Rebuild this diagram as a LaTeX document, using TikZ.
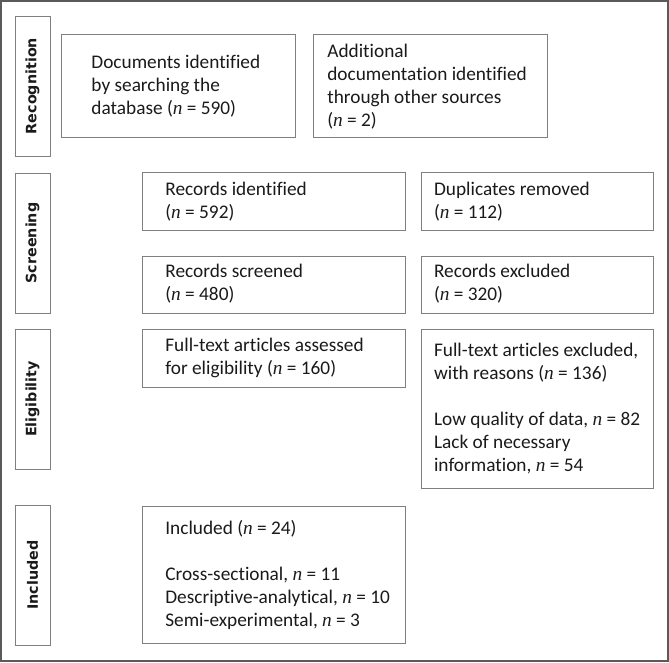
\documentclass[tikz,border=0pt]{standalone}
\usepackage{fontspec}
\setmainfont{Carlito}[Ligatures=NoCommon]
\newfontfamily\sidefont{DejaVu Sans}
\newfontfamily\nserif{Liberation Serif}
\newcommand{\nv}{{\nserif\itshape n}}
\definecolor{framegray}{HTML}{5A5A5A}
\definecolor{boxgray}{HTML}{7F7F7F}
\definecolor{inkc}{HTML}{1A1A1A}
\tikzset{
  sidebox/.style={draw=boxgray, line width=0.9pt, rotate=90, minimum width=140pt,
    minimum height=35pt, inner sep=0pt, text=inkc, font=\sidefont\bfseries\fontsize{14.3}{16}\selectfont},
  box/.style={draw=boxgray, line width=0.9pt, inner sep=0pt},
  txt/.style={anchor=west, align=left, inner sep=0pt, text=inkc,
    font=\fontsize{19.3}{23}\selectfont}
}
\begin{document}
\begin{tikzpicture}[x=1pt,y=-1pt]
\useasboundingbox (0,0) rectangle (669,662);
\draw[draw=framegray, line width=1.5pt] (1,1) rectangle (668,661);

% side labels
\node[sidebox] (s1) at (32.5,86) {Recognition};
\node[sidebox] (s2) at (32.5,243) {Screening};
\node[sidebox] (s3) at (32.5,399) {Eligibility};
\node[sidebox] (s4) at (32.5,575) {Included};

% boxes
\node[box, minimum width=234.5pt, minimum height=103pt] (b1) at (178.25,86.2) {};
\node[box, minimum width=233.8pt, minimum height=103pt] (b2) at (430.5,86.2) {};
\node[box, minimum width=263pt, minimum height=57.6pt] (b3) at (273.8,201.5) {};
\node[box, minimum width=231.9pt, minimum height=57.6pt] (b4) at (537.65,201.5) {};
\node[box, minimum width=263pt, minimum height=57.7pt] (b5) at (273.8,284.85) {};
\node[box, minimum width=231.9pt, minimum height=57.7pt] (b6) at (537.65,284.85) {};
\node[box, minimum width=263pt, minimum height=57.7pt] (b7) at (273.8,358.15) {};
\node[box, minimum width=231.9pt, minimum height=159pt] (b8) at (537.65,408.8) {};
\node[box, minimum width=263pt, minimum height=137pt] (b9) at (273.8,575.2) {};

% texts
\node[txt] (t1) at ([xshift=30.7pt]b1.west) {Documents identified\\by searching the\\database (\nv{} = 590)};
\node[txt] (t2) at ([xshift=14pt]b2.west) {Additional\\documentation identified\\through other sources\\(\nv{} = 2)};
\node[txt] (t3) at ([xshift=23.3pt]b3.west) {Records identified\\(\nv{} = 592)};
\node[txt] (t4) at ([xshift=12.6pt]b4.west) {Duplicates removed\\(\nv{} = 112)};
\node[txt] (t5) at ([xshift=23.3pt,yshift=1.5pt]b5.west) {Records screened\\(\nv{} = 480)};
\node[txt] (t6) at ([xshift=12.6pt,yshift=1.5pt]b6.west) {Records excluded\\(\nv{} = 320)};
\node[txt] (t7) at ([xshift=23.3pt]b7.west) {Full-text articles assessed\\for eligibility (\nv{} = 160)};
\node[txt] (t8) at ([xshift=12.6pt]b8.west) {Full-text articles excluded,\\with reasons (\nv{} = 136)\\[23pt]Low quality of data, \nv{} = 82\\Lack of necessary\\information, \nv{} = 54};
\node[txt] (t9) at ([xshift=23.3pt]b9.west) {Included (\nv{} = 24)\\[23pt]Cross-sectional, \nv{} = 11\\Descriptive-analytical, \nv{} = 10\\Semi-experimental, \nv{} = 3};
\end{tikzpicture}
\end{document}
